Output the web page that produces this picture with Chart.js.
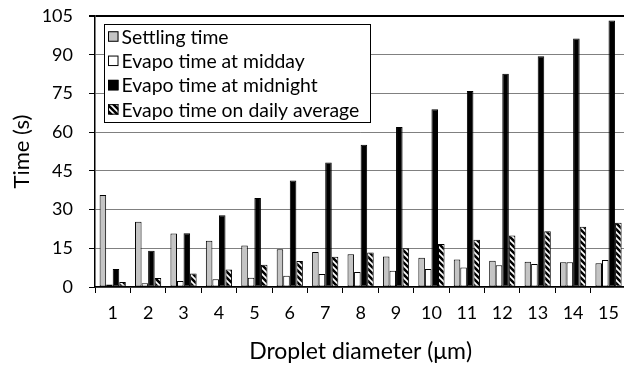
<!DOCTYPE html>
<html><head><meta charset="utf-8">
<script src="https://cdn.jsdelivr.net/npm/chart.js@4/dist/chart.umd.min.js"></script>
<style>
html,body{margin:0;padding:0;background:#fff;overflow:hidden;width:624px;height:370px;}
#wrap{position:absolute;left:0;top:0;width:628px;height:370px;}
</style></head>
<body><div id="wrap"><canvas id="c" width="628" height="370"></canvas></div>
<script>
const categories = ['1','2','3','4','5','6','7','8','9','10','11','12','13','14','15'];
const settlingTime = [35.6,25.3,20.7,17.9,16.1,14.6,13.6,12.7,11.8,11.3,10.7,10.2,9.8,9.6,9.2];
const evapoMidday = [1.0,1.5,2.3,3.0,3.6,4.4,5.0,5.8,6.3,7.0,7.6,8.4,8.9,9.6,10.5];
const evapoMidnight = [7.0,14.0,20.8,27.8,34.5,41.3,48.2,55.1,62.0,68.9,75.9,82.6,89.4,96.3,103.3];
const evapoAverage = [1.9,3.5,5.2,6.8,8.6,10.1,11.7,13.4,15.0,16.7,18.3,20.0,21.6,23.3,24.9];
const seriesLabels = ['Settling time','Evapo time at midday','Evapo time at midnight','Evapo time on daily average'];
const yTicks = {min:0,max:105,step:15};

const FONT = 'Lato, "Open Sans", sans-serif';
const canvas = document.getElementById('c');
const ctx = canvas.getContext('2d');

function makeHatch(){
  const s=6, c=document.createElement('canvas'); c.width=s; c.height=s;
  const g=c.getContext('2d');
  g.fillStyle='#000'; g.fillRect(0,0,s,s);
  g.strokeStyle='#fff'; g.lineWidth=1.7;
  g.beginPath();
  g.moveTo(-2,-2); g.lineTo(s+2,s+2);
  g.moveTo(-2,s-2); g.lineTo(2,s+2);
  g.moveTo(s-2,-2); g.lineTo(s+2,2);
  g.stroke();
  return ctx.createPattern(c,'repeat');
}
const hatch = makeHatch();

const boxLegend = {
  id:'boxLegend',
  afterDatasetsDraw(chart){
    const c=chart.ctx, a=chart.chartArea;
    const x0=a.left+9, y0=a.top+8, w=266, h=98, rowH=24.3;
    c.save();
    c.fillStyle='#fff'; c.fillRect(x0,y0,w,h);
    c.strokeStyle='#000'; c.lineWidth=1; c.strokeRect(x0+0.5,y0+0.5,w,h);
    c.font='19.4px '+FONT; c.textBaseline='middle'; c.textAlign='left';
    chart.data.datasets.forEach((ds,i)=>{
      const cy=y0+12.5+i*rowH;
      const bx=x0+4, bs=10.5;
      c.fillStyle=ds.backgroundColor; c.fillRect(bx,cy-bs/2,bs,bs);
      c.strokeStyle='#000'; c.lineWidth=1; c.strokeRect(bx+0.5,cy-bs/2+0.5,bs-1,bs-1);
      c.fillStyle='#000'; c.fillText(ds.label,bx+bs+3,cy+1);
    });
    c.restore();
  }
};

const mk=(label,data,bg)=>({label,data,backgroundColor:bg,borderColor:'#000',borderWidth:1,borderSkipped:false,categoryPercentage:0.74,barPercentage:1.0});

new Chart(ctx,{
  type:'bar',
  data:{labels:categories,datasets:[
    mk(seriesLabels[0],settlingTime,'#c4c4c4'),
    mk(seriesLabels[1],evapoMidday,'#ffffff'),
    mk(seriesLabels[2],evapoMidnight,'#000000'),
    mk(seriesLabels[3],evapoAverage,hatch)
  ]},
  options:{
    responsive:false, animation:false,
    layout:{padding:{top:0,right:1,left:0,bottom:0}},
    plugins:{legend:{display:false},tooltip:{enabled:false}},
    scales:{
      x:{
        grid:{offset:true,drawOnChartArea:false,drawTicks:true,tickLength:6,color:'#000'},
        border:{color:'#000',width:1.5},
        ticks:{color:'#000',font:{family:FONT,size:18},padding:9,maxRotation:0,autoSkip:false},
        title:{display:true,text:'Droplet diameter (μm)',color:'#000',font:{family:FONT,size:23},padding:{top:0,bottom:5}},
        afterFit(s){s.height=83;}
      },
      y:{
        min:yTicks.min,max:yTicks.max,
        ticks:{stepSize:yTicks.step,color:'#000',font:{family:FONT,size:18},padding:16},
        grid:{
          color:(c)=>c.tick && c.tick.value===yTicks.max?'#000':'#808080',
          lineWidth:(c)=>c.tick && c.tick.value===yTicks.max?2:1,
          tickColor:'#000',tickLength:6,drawTicks:true
        },
        border:{color:'#000',width:1.5},
        title:{display:true,text:'Time (s)',color:'#000',font:{family:FONT,size:22},padding:{top:9,bottom:0}},
        afterFit(s){s.width=95; s.paddingTop=16; s.paddingBottom=0;}
      }
    }
  },
  plugins:[boxLegend]
});
</script></body></html>
